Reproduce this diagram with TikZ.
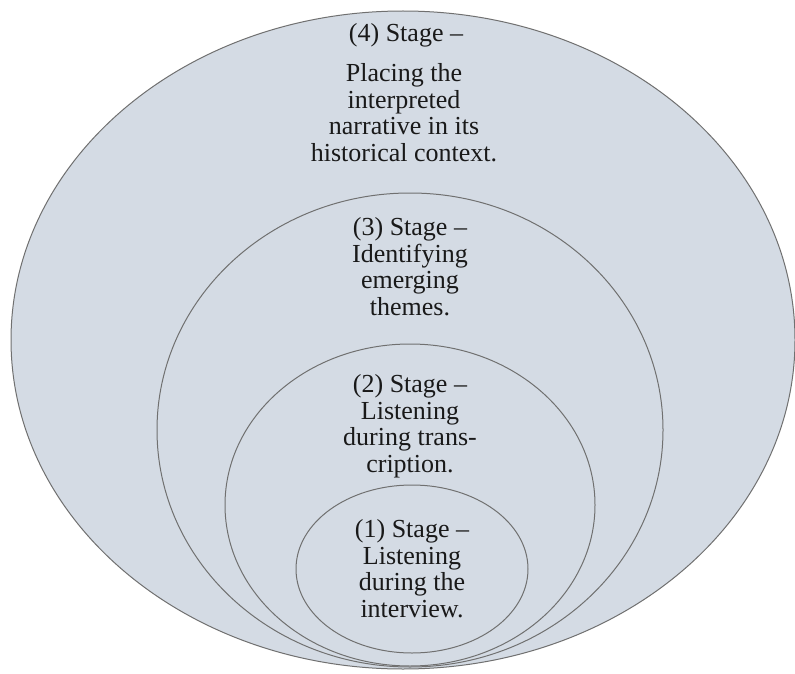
\documentclass[tikz,border=0pt]{standalone}
\usepackage{fontspec}
\setmainfont{Liberation Serif}
\definecolor{fillblue}{HTML}{D4DBE4}
\definecolor{edgegray}{HTML}{707070}
\begin{document}
\begin{tikzpicture}[x=1pt,y=-1pt,
  ring/.style={draw=edgegray,fill=fillblue,line width=1pt},
  label/.style={align=center,font=\fontsize{26}{26.8}\selectfont,inner sep=0pt,text=black!90}]
\useasboundingbox (0,0) rectangle (795,674);
\fill[white] (0,0) rectangle (795,674);
\draw[ring] (403,340) ellipse [x radius=392, y radius=329];
\draw[ring] (410,430) ellipse [x radius=253, y radius=237];
\draw[ring] (410,505) ellipse [x radius=185, y radius=161];
\draw[ring] (412,569) ellipse [x radius=116, y radius=84];
\node[label] (s4a) at (406,35) {(4) Stage --};
\node[label,anchor=north] (s4b) at (404,63) {Placing the\\interpreted\\narrative in its\\historical context.};
\node[label,anchor=north] (s3) at (410,217) {(3) Stage --\\Identifying\\emerging\\themes.};
\node[label,anchor=north] (s2) at (410,374) {(2) Stage --\\Listening\\during trans-\\cription.};
\node[label,anchor=north] (s1) at (412,519) {(1) Stage --\\Listening\\during the\\interview.};
\end{tikzpicture}
\end{document}
